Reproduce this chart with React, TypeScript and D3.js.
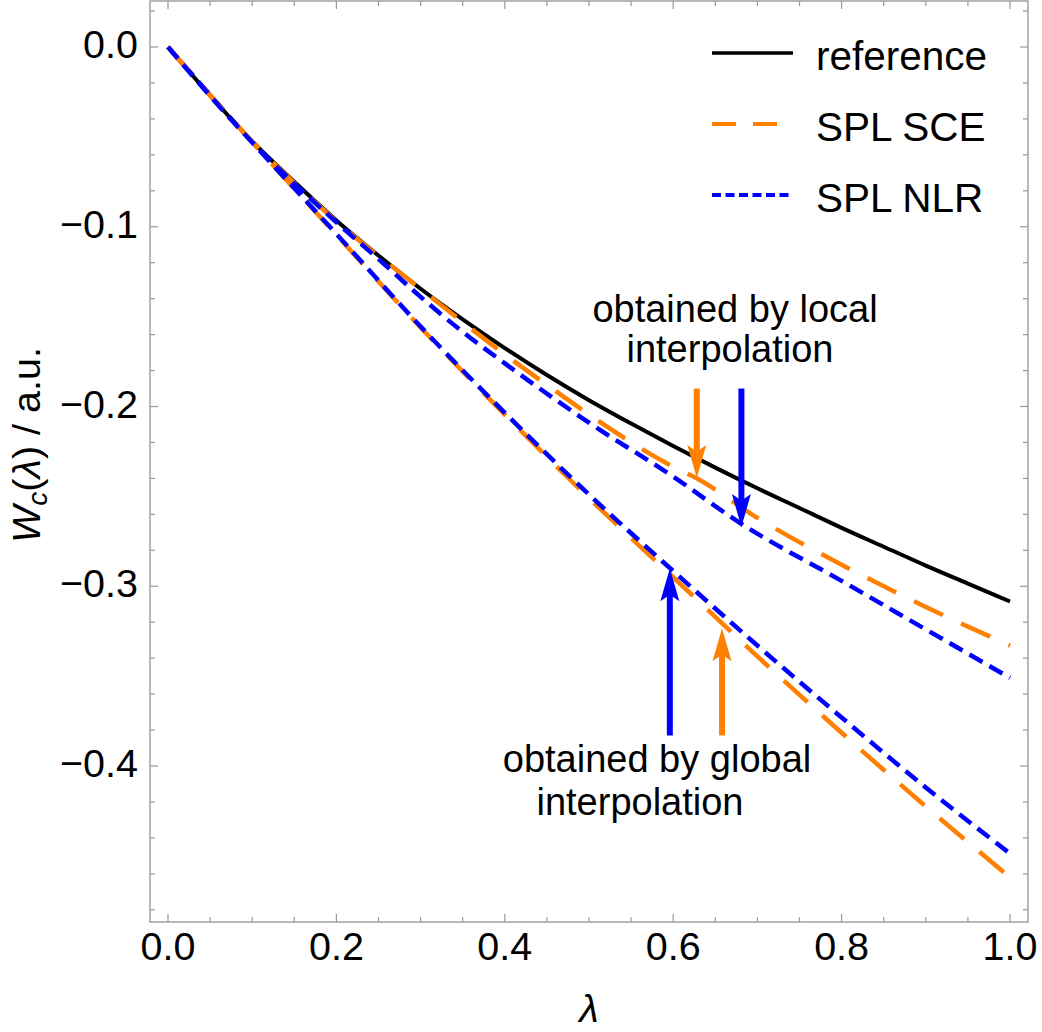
import React, { useEffect, useRef } from "react";
import * as d3 from "d3";

// reference curve
const refLambda = [0, 0.05, 0.1, 0.15, 0.2, 0.25, 0.3, 0.35, 0.4, 0.45, 0.5, 0.55, 0.6, 0.65, 0.7, 0.75, 0.8, 0.85, 0.9, 0.95, 1.0];
const refW = [0, -0.027, -0.0525, -0.075, -0.0965, -0.116, -0.1345, -0.1515, -0.1675, -0.1825, -0.1965, -0.2095, -0.222, -0.234, -0.2455, -0.2565, -0.2675, -0.278, -0.2885, -0.2985, -0.3085];

// local interpolation
const sceLocalLambda = [0, 0.1, 0.2, 0.3, 0.4, 0.47, 0.5, 0.6, 0.63, 0.7, 0.8, 0.9, 1.0];
const sceLocalW = [0, -0.0525, -0.097, -0.1345, -0.171, -0.1946, -0.2045, -0.2335, -0.2405, -0.262, -0.288, -0.3115, -0.333];
const nlrLocalLambda = [0, 0.1, 0.2, 0.25, 0.3, 0.35, 0.4, 0.5, 0.6, 0.68, 0.8, 0.9, 1.0];
const nlrLocalW = [0, -0.053, -0.0975, -0.118, -0.139, -0.1585, -0.176, -0.209, -0.239, -0.265, -0.297, -0.324, -0.351];

// global interpolation
const sceGlobalLambda = [0, 0.1, 0.2, 0.3, 0.4, 0.5, 0.6, 0.7, 0.8, 0.9, 1.0];
const sceGlobalW = [0, -0.053, -0.1045, -0.156, -0.2045, -0.251, -0.295, -0.339, -0.3815, -0.4225, -0.462];
const nlrGlobalLambda = [0, 0.1, 0.2, 0.3, 0.4, 0.5, 0.6, 0.7, 0.8, 0.9, 1.0];
const nlrGlobalW = [0, -0.053, -0.104, -0.1555, -0.2035, -0.249, -0.2915, -0.333, -0.373, -0.412, -0.4487];

const xTicks = [0, 0.2, 0.4, 0.6, 0.8, 1.0];
const yTicks = [0, -0.1, -0.2, -0.3, -0.4];

const legendNames = ["reference", "SPL SCE", "SPL NLR"];

// arrows: lambda, tail W, tip W
const arrowLambda = [0.628, 0.681, 0.596, 0.658];
const arrowTail = [-0.19, -0.19, -0.383, -0.383];
const arrowTip = [-0.2398, -0.267, -0.29, -0.3233];

const ORANGE = "#ff8000";
const BLUE = "#0000ff";
const FONT = "'Liberation Sans', Arial, Helvetica, sans-serif";

const W = 1042;
const H = 1032;
const frame = { left: 150, right: 1028, top: 1, bottom: 922 };

const App = () => {
  const ref = useRef<SVGSVGElement>(null);

  useEffect(() => {
    const svg = d3.select(ref.current);
    svg.selectAll("*").remove();

    const x = d3.scaleLinear().domain([0, 1]).range([168, 1010]);
    const y = d3.scaleLinear().domain([0, -0.4]).range([47, 766]);

    // frame
    svg
      .append("rect")
      .attr("x", frame.left)
      .attr("y", frame.top)
      .attr("width", frame.right - frame.left)
      .attr("height", frame.bottom - frame.top)
      .attr("fill", "none")
      .attr("stroke", "#9a9a9a")
      .attr("stroke-width", 1.4);

    const tickColor = "#9a9a9a";
    const g = svg.append("g").attr("stroke", tickColor).attr("stroke-width", 1.2);

    // x ticks (bottom + top)
    const xMinor = d3.range(0, 21).map((i) => i * 0.05);
    xMinor.forEach((v) => {
      const major = Math.abs(v * 5 - Math.round(v * 5)) < 1e-6;
      const len = major ? 8 : 5;
      g.append("line").attr("x1", x(v)).attr("x2", x(v)).attr("y1", frame.bottom).attr("y2", frame.bottom - len);
      g.append("line").attr("x1", x(v)).attr("x2", x(v)).attr("y1", frame.top).attr("y2", frame.top + len);
    });

    // y ticks (left + right)
    const yMinor = d3.range(-24, 2).map((i) => i * 0.02);
    yMinor.forEach((v) => {
      const major = Math.abs(v * 10 - Math.round(v * 10)) < 1e-6;
      const len = major ? 8 : 5;
      g.append("line").attr("y1", y(v)).attr("y2", y(v)).attr("x1", frame.left).attr("x2", frame.left + len);
      g.append("line").attr("y1", y(v)).attr("y2", y(v)).attr("x1", frame.right).attr("x2", frame.right - len);
    });

    // tick labels
    svg
      .selectAll("text.xt")
      .data(xTicks)
      .join("text")
      .attr("class", "xt")
      .attr("x", (d) => x(d))
      .attr("y", 960)
      .attr("text-anchor", "middle")
      .style("font-family", FONT)
      .style("font-size", "39.5px")
      .text((d) => d3.format(".1f")(d));

    svg
      .selectAll("text.yt")
      .data(yTicks)
      .join("text")
      .attr("class", "yt")
      .attr("x", 138)
      .attr("y", (d) => y(d) + 11)
      .attr("text-anchor", "end")
      .style("font-family", FONT)
      .style("font-size", "39.5px")
      .text((d) => (d === 0 ? "0.0" : "\u2212" + d3.format(".1f")(-d)));

    // axis labels
    svg
      .append("text")
      .attr("x", 589)
      .attr("y", 1022)
      .attr("text-anchor", "middle")
      .style("font-family", FONT)
      .style("font-size", "39.5px")
      .style("font-style", "italic")
      .text("\u03bb");

    const yl = svg
      .append("text")
      .attr("transform", "translate(40,445) rotate(-90)")
      .attr("text-anchor", "middle")
      .style("font-family", FONT)
      .style("font-size", "39.5px");
    yl.append("tspan").style("font-style", "italic").text("W");
    yl.append("tspan").style("font-style", "italic").style("font-size", "28px").attr("dy", 7).text("c");
    yl.append("tspan").attr("dy", -7).text("(");
    yl.append("tspan").style("font-style", "italic").text("\u03bb");
    yl.append("tspan").text(") / a.u.");

    const line = d3
      .line<[number, number]>()
      .x((d) => x(d[0]))
      .y((d) => y(d[1]))
      .curve(d3.curveMonotoneX);

    const zip = (a: number[], b: number[]) => a.map((v, i) => [v, b[i]] as [number, number]);

    const series = [
      { pts: zip(sceGlobalLambda, sceGlobalW), color: ORANGE, dash: "32,20", w: 4.5 },
      { pts: zip(nlrGlobalLambda, nlrGlobalW), color: BLUE, dash: "15,8", w: 4.5 },
      { pts: zip(refLambda, refW), color: "#000", dash: null, w: 4 },
      { pts: zip(sceLocalLambda, sceLocalW), color: ORANGE, dash: "32,20", w: 4.5 },
      { pts: zip(nlrLocalLambda, nlrLocalW), color: BLUE, dash: "15,8", w: 4.5 },
    ];

    series.forEach((s) => {
      svg
        .append("path")
        .attr("d", line(s.pts))
        .attr("fill", "none")
        .attr("stroke", s.color)
        .attr("stroke-width", s.w)
        .attr("stroke-dasharray", s.dash);
    });

    // arrows
    const arrowColors = [ORANGE, BLUE, BLUE, ORANGE];
    arrowLambda.forEach((l, i) => {
      const ax = x(l);
      const tailY = y(arrowTail[i]);
      const tipY = y(arrowTip[i]);
      const dir = tipY > tailY ? 1 : -1;
      const headLen = 33;
      const headHalf = 9.5;
      svg
        .append("line")
        .attr("x1", ax)
        .attr("x2", ax)
        .attr("y1", tailY)
        .attr("y2", tipY - dir * headLen * 0.8)
        .attr("stroke", arrowColors[i])
        .attr("stroke-width", 6);
      svg
        .append("path")
        .attr(
          "d",
          `M${ax},${tipY} L${ax - headHalf},${tipY - dir * headLen} L${ax},${tipY - dir * headLen * 0.8} L${ax + headHalf},${tipY - dir * headLen} Z`
        )
        .attr("fill", arrowColors[i]);
    });

    // annotations
    const note = (cx: number[], by: number[], lines: string[]) => {
      lines.forEach((t, i) => {
        svg
          .append("text")
          .attr("x", cx[i])
          .attr("y", by[i])
          .attr("text-anchor", "middle")
          .style("font-family", FONT)
          .style("font-size", "38px")
          .text(t);
      });
    };
    note([735, 730], [322, 362], ["obtained by local", "interpolation"]);
    note([657, 640], [772, 815], ["obtained by global", "interpolation"]);

    // legend
    const legendStyles = [
      { color: "#000", dash: null, w: 3.5 },
      { color: ORANGE, dash: "24,17", w: 4 },
      { color: BLUE, dash: "9,4.5", w: 4 },
    ];
    legendNames.forEach((name, i) => {
      const ly = 53 + i * 71;
      svg
        .append("line")
        .attr("x1", 712)
        .attr("x2", 793)
        .attr("y1", ly)
        .attr("y2", ly)
        .attr("stroke", legendStyles[i].color)
        .attr("stroke-width", legendStyles[i].w)
        .attr("stroke-dasharray", legendStyles[i].dash);
      svg
        .append("text")
        .attr("x", 816)
        .attr("y", ly + 17)
        .style("font-family", FONT)
        .style("font-size", "40.5px")
        .text(name);
    });
  }, []);

  return (
    <svg
      ref={ref}
      width={W}
      height={H}
      viewBox={`0 0 ${W} ${H}`}
      style={{ position: "absolute", left: 0, top: 0, background: "#fff" }}
    />
  );
};

export default App;
